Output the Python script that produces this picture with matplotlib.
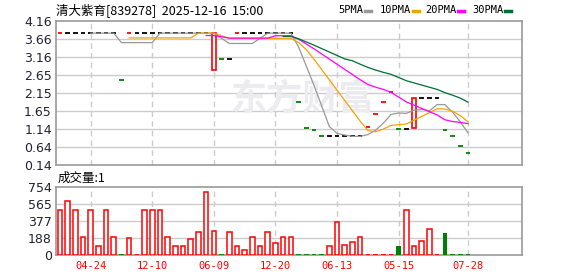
import numpy as np
import pandas as pd
import matplotlib
matplotlib.use('Agg')
import matplotlib.pyplot as plt
from matplotlib.patches import Rectangle
from matplotlib.lines import Line2D

plt.rcParams['font.family'] = ['Noto Sans CJK SC', 'DejaVu Sans']

title = '清大紫育[839278]  2025-12-16  15:00'

opens = [3.82, 3.82, 3.82, 3.82, 3.82, 3.82, 3.82, 3.82, 2.50, 3.82,
         3.82, 3.82, 3.82, 3.82, 3.82, 3.82, 3.82, 3.82, 3.82, 3.82,
         2.80, 3.10, 3.10, 3.82, 3.82, 3.82, 3.82, 3.82, 3.82, 3.82,
         3.82, 1.90, 1.16, 1.13, 0.94, 0.94, 0.94, 0.94, 0.94, 0.94,
         1.19, 1.56, 1.90, 2.17, 1.14, 1.14, 1.16, 2.00, 2.00, 2.00,
         1.13, 0.94, 0.66, 0.47]
closes = [3.82, 3.82, 3.82, 3.82, 3.82, 3.82, 3.82, 3.82, 2.50, 3.82,
          3.82, 3.82, 3.82, 3.82, 3.82, 3.82, 3.82, 3.82, 3.82, 3.82,
          3.82, 3.10, 3.10, 3.82, 3.82, 3.82, 3.82, 3.82, 3.82, 3.82,
          3.82, 1.90, 1.16, 1.13, 0.94, 0.94, 0.94, 0.94, 0.94, 0.94,
          1.19, 1.56, 1.90, 2.17, 1.14, 1.14, 2.00, 2.00, 2.00, 2.00,
          1.13, 0.94, 0.66, 0.47]
volumes = [500, 600, 500, 200, 500, 100, 500, 200, 0, 190,
           0, 500, 500, 500, 200, 100, 100, 175, 250, 700,
           260, 0, 250, 100, 50, 200, 100, 250, 130, 200,
           200, 0, 0, 0, 0, 100, 360, 110, 140, 200,
           0, 0, 0, 0, 100, 500, 100, 160, 290, 0,
           240, 0, 0, 0]

tick_pos = [4, 12, 20, 28, 36, 44, 53]
tick_labels = ['04-24', '12-10', '06-09', '12-20', '06-13', '05-15', '07-28']
price_ticks = ['0.14', '0.64', '1.14', '1.65', '2.15', '2.65', '3.16', '3.66', '4.16']
vol_ticks = ['0', '188', '377', '565', '754']

ma_names = ['5PMA', '10PMA', '20PMA', '30PMA']
ma_periods = [5, 10, 20, 30]
ma_colors = ['#999999', '#f5a300', '#ff00ff', '#006e32']

RED = '#ff0000'
GREEN = '#008000'

fig = plt.figure(figsize=(5.78, 2.76), dpi=100)
ax = fig.add_axes([0.0969, 0.402, 0.806, 0.522])
axv = fig.add_axes([0.0969, 0.0761, 0.806, 0.2475])

n = len(closes)
x = np.arange(n)
w = 0.6

# candle colours: up red, down green, unchanged black
cols = []
for i in range(n):
    prev = closes[i - 1] if i > 0 else None
    if prev is None or closes[i] > opens[i] or closes[i] > prev:
        cols.append(RED)
    elif closes[i] < prev:
        cols.append(GREEN)
    else:
        cols.append('black')

for i in range(n):
    o, c = opens[i], closes[i]
    if o == c:
        ax.hlines(c, i - w / 2, i + w / 2, color=cols[i], lw=1.3, zorder=2)
    else:
        ax.add_patch(Rectangle((i - w / 2, min(o, c)), w, abs(c - o),
                               facecolor='white', edgecolor=cols[i], lw=1.2, zorder=2))

s = pd.Series(closes)
for p, col in zip(ma_periods, ma_colors):
    ax.plot(x, s.rolling(p).mean(), color=col, lw=0.9, zorder=3)

# volume
for i in range(n):
    v = volumes[i]
    vc = GREEN if cols[i] == GREEN else RED
    if v == 0:
        axv.hlines(4, i - w / 2, i + w / 2, color=vc, lw=1.3, zorder=4)
    elif vc == GREEN:
        axv.bar(i, v, width=w, color=GREEN, zorder=3)
    else:
        axv.bar(i, v, width=w, facecolor='white', edgecolor=RED, lw=1.1, zorder=3)

yt = np.linspace(0.14, 4.16, 9)
vt = np.linspace(0, 754, 5)
for a, ticks, labels, lim in [(ax, yt, price_ticks, (0.14, 4.16)),
                              (axv, vt, vol_ticks, (0, 754))]:
    a.set_xlim(-0.5, 60)
    a.set_ylim(*lim)
    a.set_yticks(ticks)
    a.set_yticklabels(labels, fontsize=9, color='#222233', family='DejaVu Sans')
    a.set_xticks(tick_pos)
    a.tick_params(length=0, pad=3)
    for yy in ticks[1:-1]:
        a.axhline(yy, color='#cccccc', lw=1, zorder=0)
    for xx in tick_pos:
        a.axvline(xx, color='#cccccc', lw=1, ls=(0, (4, 3)), zorder=0)
    for sp in a.spines.values():
        sp.set_color('#999999')
        sp.set_linewidth(1.2)

ax.set_xticklabels([])
axv.set_xticklabels(tick_labels, fontsize=7.5, color=RED, family='DejaVu Sans Mono')
axv.tick_params(axis='x', pad=4)

# watermark
ax.text(0.53, 0.46, '东方财富', transform=ax.transAxes, fontsize=26, fontweight='bold',
        color='#ececf0', ha='center', va='center', zorder=0)

fig.text(0.097, 0.965, title, fontsize=9, va='center', ha='left')
fig.text(0.1, 0.355, '成交量:1', fontsize=9, va='center', ha='left')

# legend: name then a short coloured dash
W, H = 578.0, 276.0
lx = [338, 380, 425, 472]
sw = [365, 413, 458, 505]
for name, col, px, sx in zip(ma_names, ma_colors, lx, sw):
    fig.text(px / W, 0.962, name, fontsize=7.5, va='center', ha='left',
             family='DejaVu Sans Mono')
    fig.add_artist(Line2D([sx / W, (sx + 6) / W], [1 - 10.5 / H, 1 - 10.5 / H],
                          color=col, lw=2.5, transform=fig.transFigure))

fig.savefig('out.png', dpi=100)
